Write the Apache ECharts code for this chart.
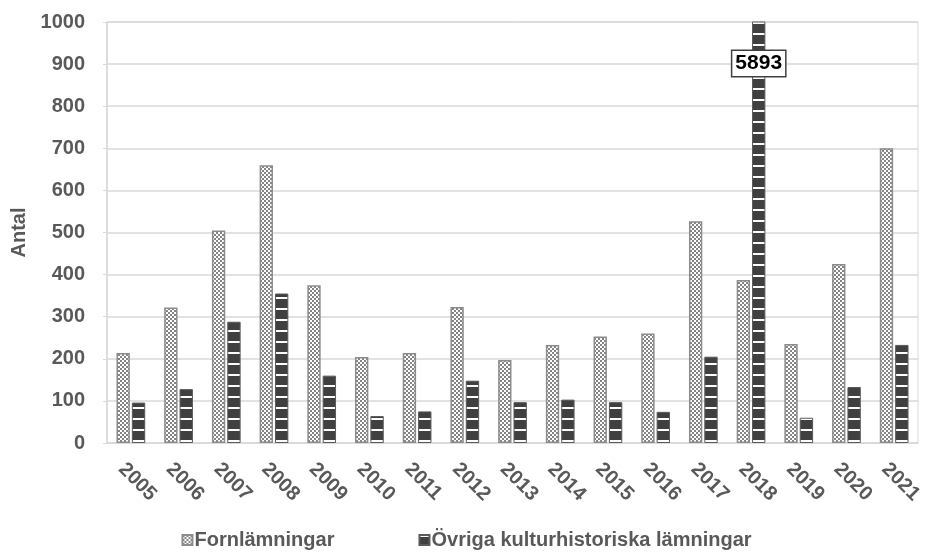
<!DOCTYPE html>
<html>
<head>
<meta charset="utf-8">
<script src="https://cdn.jsdelivr.net/npm/echarts@6/dist/echarts.min.js"></script>
<style>
  html, body { margin: 0; padding: 0; background: #fff; }
  #chart { width: 933px; height: 557px; }
</style>
</head>
<body>
<div id="chart"></div>
<script>
// data
const years = ['2005', '2006', '2007', '2008', '2009', '2010', '2011', '2012', '2013',
  '2014', '2015', '2016', '2017', '2018', '2019', '2020', '2021'];
const fornlamningar = [214, 322, 505, 660, 375, 204, 214, 323, 197, 233, 253, 260, 527, 387, 235, 425, 700];
const ovriga = [96, 128, 288, 355, 160, 64, 75, 148, 97, 103, 97, 74, 205, 5893, 60, 133, 233];
const seriesNames = ['Fornlämningar', 'Övriga kulturhistoriska lämningar'];

// fill patterns
function checkerPattern() {
  const c = document.createElement('canvas');
  c.width = 4; c.height = 4;
  const ctx = c.getContext('2d');
  ctx.fillStyle = '#ffffff';
  ctx.fillRect(0, 0, 4, 4);
  ctx.fillStyle = '#858585';
  ctx.fillRect(0, 0, 2, 2);
  ctx.fillRect(2, 2, 2, 2);
  return c;
}
function stripePattern() {
  const c = document.createElement('canvas');
  c.width = 4; c.height = 11;
  const ctx = c.getContext('2d');
  ctx.fillStyle = '#404040';
  ctx.fillRect(0, 0, 4, 11);
  ctx.fillStyle = '#ffffff';
  ctx.fillRect(0, 0, 4, 2);
  return c;
}

const textColor = '#595959';
const font = 'Liberation Sans, Arial, sans-serif';

const chart = echarts.init(document.getElementById('chart'), null, { renderer: 'canvas' });

// the 2018 value runs off the scale, show it in a box instead
const ovrigaData = ovriga.map(function (v) {
  if (v > 1000) {
    return {
      value: v,
      label: {
        show: true,
        position: ['50%', 42],
        align: 'center',
        verticalAlign: 'middle',
        formatter: '{c}',
        color: '#000',
        fontFamily: font,
        fontWeight: 'bold',
        fontSize: 21,
        backgroundColor: '#fff',
        borderColor: '#404040',
        borderWidth: 1.5,
        padding: [3, 3, 1, 3]
      }
    };
  }
  return v;
});

const option = {
  backgroundColor: '#ffffff',
  animation: false,
  grid: {
    left: 107,
    right: 15,
    top: 22,
    bottom: 114,
    show: true,
    borderColor: '#d9d9d9',
    borderWidth: 1
  },
  legend: {
    bottom: 2,
    left: 'center',
    itemWidth: 10,
    itemHeight: 10,
    itemGap: 84,
    icon: 'rect',
    textStyle: { color: textColor, fontFamily: font, fontWeight: 'bold', fontSize: 20, padding: [0, 0, 0, -3] },
    data: seriesNames
  },
  xAxis: {
    type: 'category',
    data: years,
    axisLine: { lineStyle: { color: '#d9d9d9', width: 1.5 } },
    axisTick: { show: false },
    axisLabel: {
      rotate: -45,
      interval: 0,
      margin: 14,
      align: 'left',
      verticalAlign: 'top',
      lineHeight: 26,
      color: textColor,
      fontFamily: font,
      fontWeight: 'bold',
      fontSize: 20
    }
  },
  yAxis: {
    type: 'value',
    min: 0,
    max: 1000,
    interval: 100,
    name: 'Antal',
    nameLocation: 'middle',
    nameGap: 74,
    nameRotate: 90,
    nameTextStyle: { color: textColor, fontFamily: font, fontWeight: 'bold', fontSize: 20 },
    axisLine: { show: true, lineStyle: { color: '#d9d9d9', width: 1.5 } },
    axisTick: { show: true, length: 4, lineStyle: { color: '#d9d9d9' } },
    splitLine: { lineStyle: { color: '#d9d9d9', width: 1.5 } },
    axisLabel: {
      margin: 22,
      formatter: function (v) { return String(v); },
      color: textColor,
      fontFamily: font,
      fontWeight: 'bold',
      fontSize: 20
    }
  },
  series: [
    {
      name: seriesNames[0],
      type: 'bar',
      data: fornlamningar,
      barWidth: '28%',
      barGap: '15%',
      itemStyle: {
        color: { image: checkerPattern(), repeat: 'repeat' },
        borderColor: '#8c8c8c',
        borderWidth: 1.5
      }
    },
    {
      name: seriesNames[1],
      type: 'bar',
      data: ovrigaData,
      barWidth: '28%',
      clip: true,
      itemStyle: {
        color: { image: stripePattern(), repeat: 'repeat' },
        borderColor: '#595959',
        borderWidth: 1
      }
    }
  ]
};

chart.setOption(option);
</script>
</body>
</html>
